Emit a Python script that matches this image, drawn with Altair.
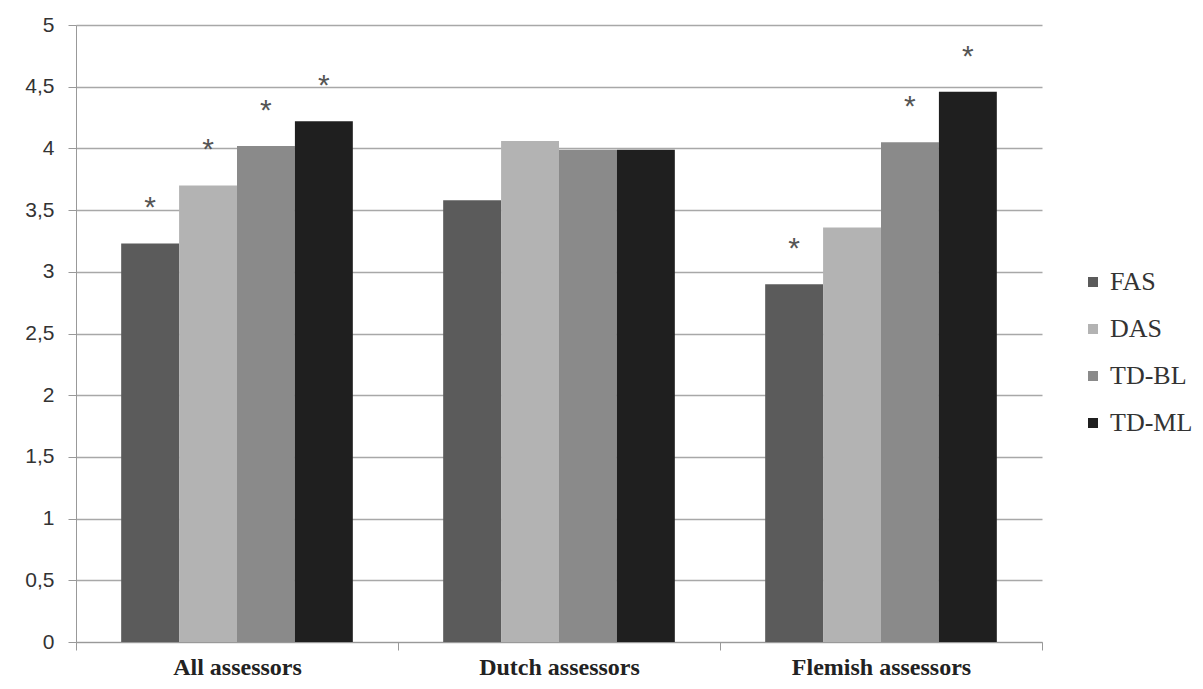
import altair as alt
import pandas as pd

groups = ["All assessors", "Dutch assessors", "Flemish assessors"]
series = ["FAS", "DAS", "TD-BL", "TD-ML"]
colors = ["#5b5b5b", "#b3b3b3", "#8a8a8a", "#1f1f1f"]
values = {
    "All assessors": [3.23, 3.70, 4.02, 4.22],
    "Dutch assessors": [3.58, 4.06, 3.99, 3.99],
    "Flemish assessors": [2.90, 3.36, 4.05, 4.46],
}
significant = {
    "All assessors": [True, True, True, True],
    "Dutch assessors": [False, False, False, False],
    "Flemish assessors": [True, False, True, True],
}

rows = []
for g in groups:
    for i, s in enumerate(series):
        rows.append({"group": g, "series": s, "value": values[g][i],
                     "sig": "*" if significant[g][i] else ""})
df = pd.DataFrame(rows)

SERIF = "Times New Roman, Liberation Serif, serif"

x_enc = alt.X("group:N", sort=groups, title=None,
              scale=alt.Scale(paddingInner=0, paddingOuter=0),
              axis=alt.Axis(labelAngle=0, labelFont=SERIF, labelFontWeight="bold",
                            labelFontSize=24, labelColor="#222", labelPadding=5, labelLimit=500,
                            domainColor="#999", tickColor="#999", tickSize=8,
                            tickBand="extent", grid=False))
xo_enc = alt.XOffset("series:N", sort=series, scale=alt.Scale(paddingInner=0, paddingOuter=0.78))
y_enc = alt.Y("value:Q", title=None,
              scale=alt.Scale(domain=[0, 5], nice=False),
              axis=alt.Axis(values=[0, 0.5, 1, 1.5, 2, 2.5, 3, 3.5, 4, 4.5, 5],
                            labelExpr="replace(format(datum.value, ''), '.', ',')",
                            labelFont="Liberation Sans", labelFontSize=21,
                            labelColor="#333", labelPadding=14,
                            domainColor="#999", tickColor="#999", tickSize=8,
                            gridColor="#a8a8a8", gridWidth=1.5))

bars = alt.Chart(df).mark_bar().encode(
    x=x_enc, xOffset=xo_enc, y=y_enc,
    color=alt.Color("series:N", sort=series,
                    scale=alt.Scale(domain=series, range=colors),
                    legend=alt.Legend(title=None, orient="none", legendX=1004, legendY=244,
                                      labelFont=SERIF, labelFontSize=26, labelLimit=300,
                                      labelColor="#333", symbolType="square", symbolSize=100,
                                      symbolStrokeWidth=0, rowPadding=21, labelOffset=4)),
)

stars = alt.Chart(df).transform_filter("datum.sig == '*'").mark_text(
    fontSize=30, color="#555", dy=-35, baseline="middle", font="Liberation Sans"
).encode(x=alt.X("group:N", sort=groups), xOffset=alt.XOffset("series:N", sort=series),
         y=alt.Y("value:Q"), text="sig:N")

chart = alt.layer(bars, stars).properties(
    width=966, height=617,
    autosize=alt.AutoSizeParams(type="none"),
    padding={"left": 68, "top": 17, "right": 150, "bottom": 39},
).configure(background="white", font=SERIF).configure_view(stroke=None).configure_legend(
    labelFont=SERIF, labelFontSize=26, labelColor="#333"
)

chart.save("out.html", embed_options={"renderer": "svg", "actions": False})
